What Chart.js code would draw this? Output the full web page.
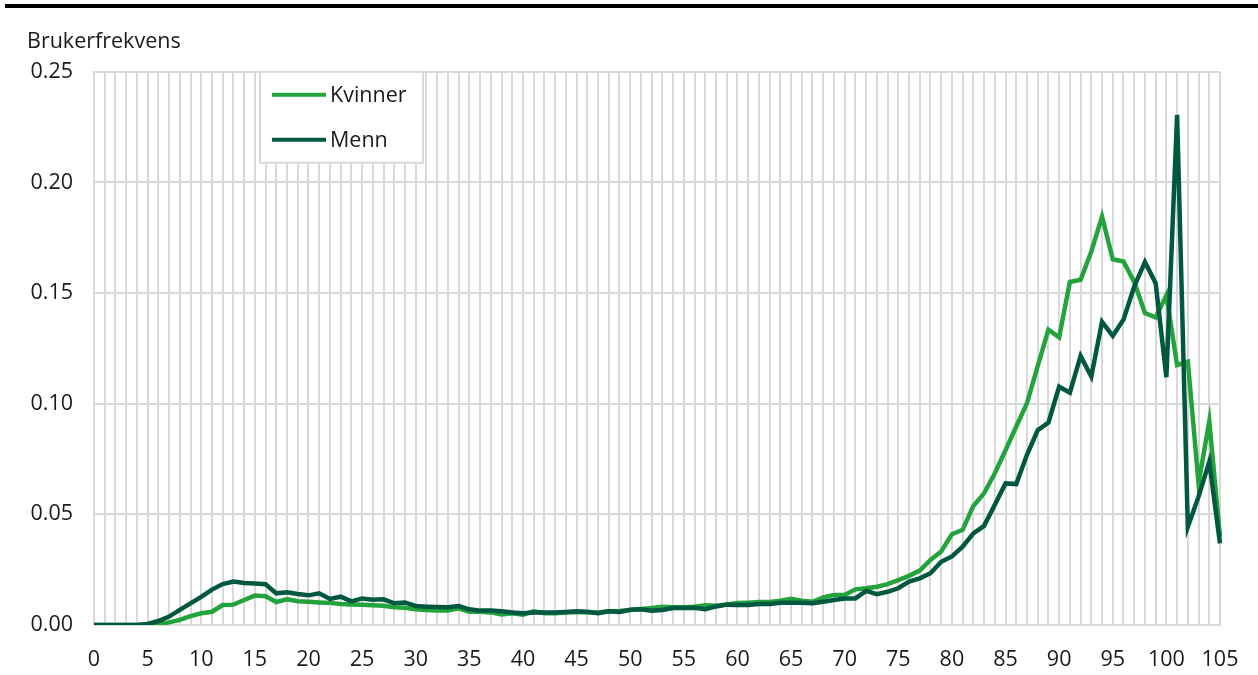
<!DOCTYPE html>
<html>
<head>
<meta charset="utf-8">
<script src="https://cdn.jsdelivr.net/npm/chart.js@4/dist/chart.umd.min.js"></script>
<style>
  body { margin: 0; background: #fff; }
  #wrap { position: relative; width: 1258px; height: 675px; }
  #topline { position: absolute; left: 5px; top: 4px; width: 1253px; height: 4px; background: #000; }
</style>
</head>
<body>
<div id="wrap">
  <div id="topline"></div>
  <canvas id="chart"></canvas>
</div>
<script>
var alder = [];
for (var i = 0; i <= 105; i++) alder.push(String(i));

var kvinner = [
  0, 0, 0, 0, 0, 0, 0.0003, 0.0012, 0.0023, 0.004,
  0.0053, 0.006, 0.009, 0.0092, 0.0113, 0.0133, 0.013, 0.0104, 0.0116, 0.0107,
  0.0105, 0.0102, 0.0100, 0.0095, 0.0093, 0.0092, 0.0089, 0.0087, 0.0080, 0.0078,
  0.0071, 0.0068, 0.0065, 0.0065, 0.0075, 0.0060, 0.0060, 0.0057, 0.0048, 0.0053,
  0.0047, 0.0062, 0.0053, 0.0053, 0.0057, 0.0059, 0.0057, 0.0057, 0.0062, 0.0063,
  0.0068, 0.0072, 0.0077, 0.0083, 0.0080, 0.0080, 0.0083, 0.0089, 0.0087, 0.0093,
  0.0099, 0.0101, 0.0104, 0.0104, 0.0110, 0.0118, 0.0110, 0.0105, 0.0125, 0.0136,
  0.0136, 0.0161, 0.0166, 0.0173, 0.0185, 0.0203, 0.0222, 0.0246, 0.0294, 0.0332,
  0.041, 0.043, 0.0538, 0.0595, 0.0686, 0.079, 0.0897, 0.1002, 0.117, 0.1335,
  0.130, 0.155, 0.156, 0.1688, 0.1846, 0.1653, 0.1643, 0.155, 0.141, 0.139,
  0.149, 0.1175, 0.119, 0.064, 0.092, 0.040
];

var menn = [
  0, 0, 0, 0, 0, 0.0005, 0.0018, 0.0038, 0.0068, 0.0098,
  0.0127, 0.016, 0.0185, 0.0196, 0.019, 0.0188, 0.0184, 0.0143, 0.0148, 0.014,
  0.0134, 0.0143, 0.0118, 0.0128, 0.0107, 0.012, 0.0114, 0.0116, 0.0098, 0.0102,
  0.0086, 0.0083, 0.0081, 0.0080, 0.0086, 0.0071, 0.0065, 0.0065, 0.0062, 0.0057,
  0.0053, 0.0056, 0.0056, 0.0057, 0.0059, 0.0062, 0.0060, 0.0053, 0.0062, 0.0059,
  0.0069, 0.0071, 0.0065, 0.0068, 0.0077, 0.0077, 0.0078, 0.0071, 0.0084, 0.0092,
  0.0090, 0.0090, 0.0095, 0.0095, 0.0101, 0.0101, 0.0101, 0.0098, 0.0105, 0.0113,
  0.012, 0.012, 0.0154, 0.0139, 0.015, 0.0166, 0.0196, 0.0211, 0.0234, 0.0286,
  0.031, 0.0354, 0.0414, 0.0448, 0.0543, 0.064, 0.0637, 0.0769, 0.088, 0.0915,
  0.1077, 0.105, 0.1216, 0.1123, 0.137, 0.1307, 0.138, 0.153, 0.164, 0.1545,
  0.112, 0.2306, 0.0444, 0.058, 0.0738, 0.0369
];

var serieNavn = ["Kvinner", "Menn"];
var farger = ["#22a33b", "#005840"];
var gridFarge = "#d9d9d9";
var font = "'Open Sans', 'Noto Sans', sans-serif";
var fontSize = 21.5;

// legend sits inside the plot, top-left, white box
var legendBox = {
  id: 'legendBox',
  afterDraw: function(chart) {
    var ctx = chart.ctx;
    var a = chart.chartArea;
    var x = a.left + 166, y = a.top, w = 163, h = 91;
    ctx.save();
    ctx.fillStyle = "#fff";
    ctx.fillRect(x, y, w, h);
    ctx.strokeStyle = gridFarge;
    ctx.lineWidth = 2;
    ctx.strokeRect(x, y, w, h);
    ctx.font = fontSize + "px " + font;
    ctx.textBaseline = "middle";
    chart.data.datasets.forEach(function(ds, i) {
      var cy = y + 23 + i * 45;
      ctx.strokeStyle = ds.borderColor;
      ctx.lineWidth = 4;
      ctx.beginPath();
      ctx.moveTo(x + 12, cy);
      ctx.lineTo(x + 66, cy);
      ctx.stroke();
      ctx.fillStyle = "#1a1a1a";
      ctx.fillText(ds.label, x + 70, cy + 1);
    });
    ctx.restore();
  }
};

new Chart("chart", {
  type: "line",
  data: {
    labels: alder,
    datasets: [
      { label: serieNavn[0], data: kvinner, borderColor: farger[0], backgroundColor: farger[0], borderWidth: 4.5, pointRadius: 0, tension: 0, order: 1 },
      { label: serieNavn[1], data: menn, borderColor: farger[1], backgroundColor: farger[1], borderWidth: 4.5, pointRadius: 0, tension: 0, order: 0 }
    ]
  },
  options: {
    responsive: true,
    maintainAspectRatio: false,
    animation: false,
    layout: { padding: { left: 27, right: 38, top: 0, bottom: 0 } },
    scales: {
      x: {
        afterFit: function(scale) {
          scale.height = 50;
          scale.paddingLeft = 0;
          scale.paddingRight = 0;
        },
        grid: { color: gridFarge, lineWidth: 2, drawTicks: false },
        border: { color: gridFarge, width: 2 },
        ticks: {
          autoSkip: false,
          maxRotation: 0,
          padding: 22,
          color: "#1a1a1a",
          font: { family: font, size: fontSize },
          callback: function(val, idx) { return idx % 5 === 0 ? this.getLabelForValue(val) : ''; }
        }
      },
      y: {
        min: 0,
        max: 0.25,
        afterFit: function(scale) { scale.width = 67; },
        grid: { color: gridFarge, lineWidth: 2, drawTicks: false },
        border: { color: gridFarge, width: 2 },
        ticks: {
          stepSize: 0.05,
          padding: 21,
          color: "#1a1a1a",
          font: { family: font, size: fontSize },
          callback: function(v) { return v.toFixed(2); }
        }
      }
    },
    plugins: {
      legend: { display: false },
      tooltip: { enabled: false },
      title: {
        display: true,
        text: "Brukerfrekvens",
        align: "start",
        color: "#1a1a1a",
        font: { family: font, size: fontSize, weight: "normal" },
        padding: { top: 29, bottom: 17 }
      }
    }
  },
  plugins: [legendBox]
});
</script>
</body>
</html>
